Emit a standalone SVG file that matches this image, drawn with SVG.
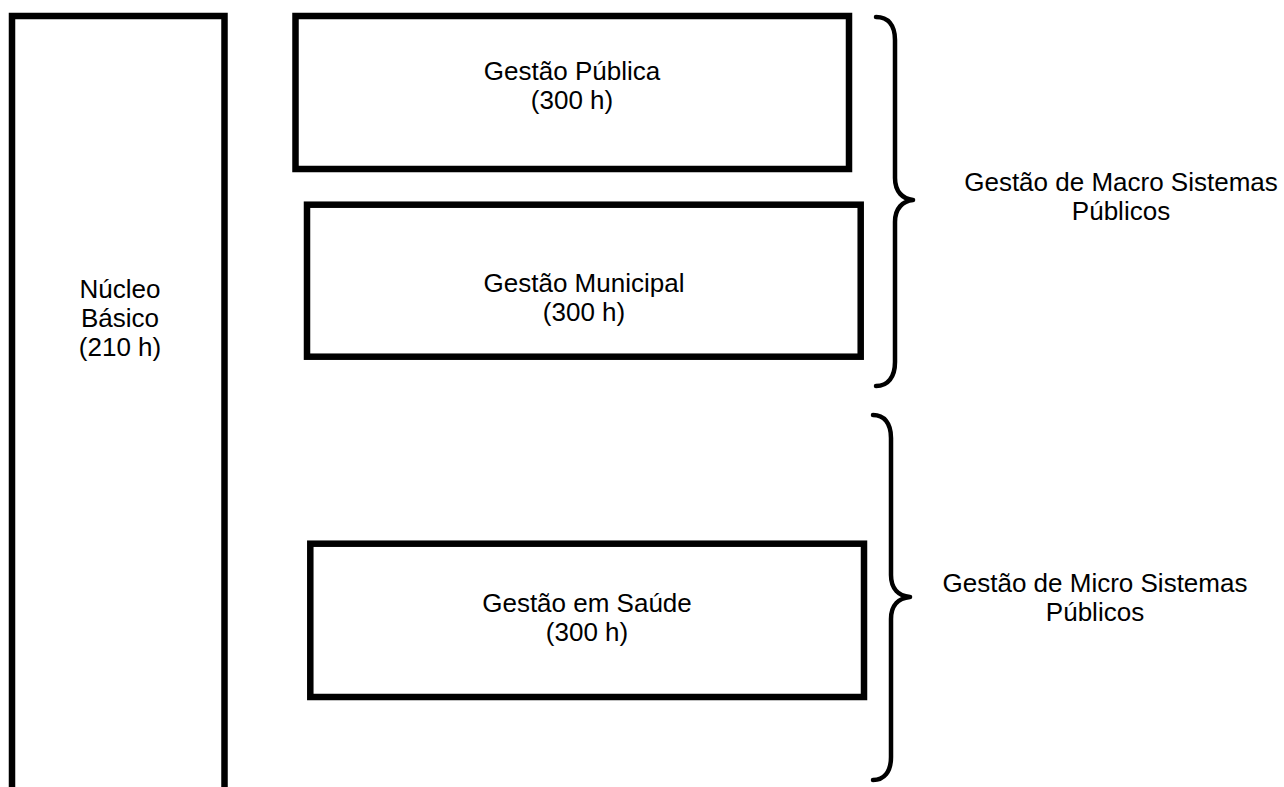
<svg xmlns="http://www.w3.org/2000/svg" width="1284" height="787" viewBox="0 0 1284 787">
<style>
.box{fill:#fff;stroke:#000;stroke-width:6.5}
.brace{fill:none;stroke:#000;stroke-width:4.5;stroke-linecap:round;stroke-linejoin:round}
text{font-family:"Liberation Sans",Arial,sans-serif;font-size:26px;fill:#000;text-anchor:middle}
</style>
<rect width="1284" height="787" fill="#fff"/>
<g id="nucleo">
<rect class="box" x="12" y="16" width="212.5" height="800"/>
<text x="120" y="298">Núcleo</text>
<text x="120" y="327">Básico</text>
<text x="120" y="356">(210 h)</text>
</g>
<g id="publica">
<rect class="box" x="295.5" y="16" width="553.5" height="153"/>
<text x="572" y="80">Gestão Pública</text>
<text x="572" y="109">(300 h)</text>
</g>
<g id="municipal">
<rect class="box" x="307" y="204.7" width="553.7" height="152"/>
<text x="584" y="292">Gestão Municipal</text>
<text x="584" y="321">(300 h)</text>
</g>
<g id="saude">
<rect class="box" x="310.3" y="543.7" width="553.7" height="153.3"/>
<text x="587" y="612">Gestão em Saúde</text>
<text x="587" y="641">(300 h)</text>
</g>
<g id="connectors">
<path class="brace" d="M876,17 C888,17 895,25 895,40 L895,178 C895,192 903,199 913,200 C903,201 895,208 895,222 L895,362 C895,377 888,386 876,386"/>
<path class="brace" d="M873,415 C884,415 891,423 891,438 L891,575 C891,589 899,596 910,597 C899,598 891,605 891,619 L891,757 C891,772 884,780 873,780"/>
</g>
<g id="macro">
<text x="1121" y="191">Gestão de Macro Sistemas</text>
<text x="1121" y="220">Públicos</text>
</g>
<g id="micro">
<text x="1095" y="592">Gestão de Micro Sistemas</text>
<text x="1095" y="621">Públicos</text>
</g>
</svg>
